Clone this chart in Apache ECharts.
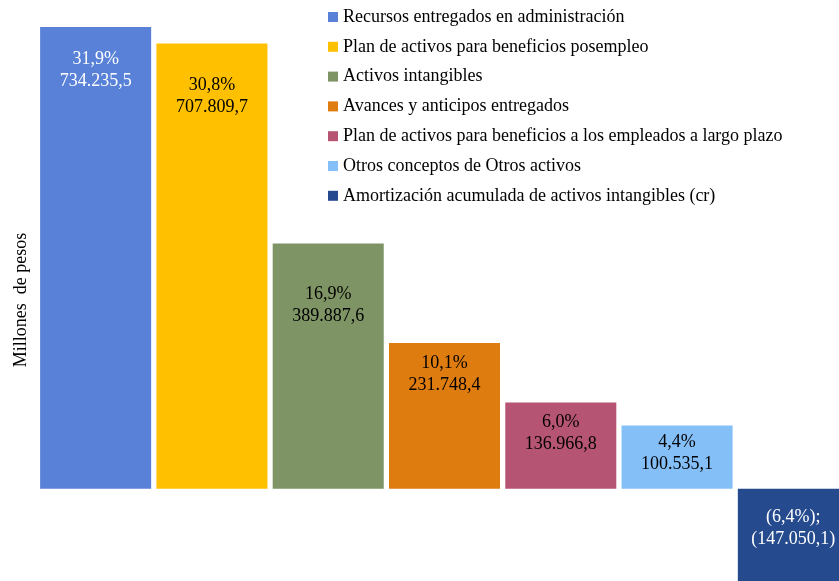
<!DOCTYPE html>
<html><head><meta charset="utf-8">
<script src="https://cdn.jsdelivr.net/npm/echarts@6/dist/echarts.min.js"></script>
<style>html,body{margin:0;padding:0;background:#fff}#c{width:839px;height:581px}</style>
</head><body><div id="c"></div>
<script>
const categories = [
  "Recursos entregados en administración",
  "Plan de activos para beneficios posempleo",
  "Activos intangibles",
  "Avances y anticipos entregados",
  "Plan de activos para beneficios a los empleados a largo plazo",
  "Otros conceptos de Otros activos",
  "Amortización acumulada de activos intangibles (cr)"
];
const values = [734235.5, 707809.7, 389887.6, 231748.4, 136966.8, 100535.1, -147050.1];
const percents = [31.9, 30.8, 16.9, 10.1, 6.0, 4.4, -6.4];

const colors = ["#5881D7", "#FFC000", "#7E9464", "#DF7C0F", "#B65473", "#85BFF8", "#254A8E"];
const labelColors = ["#ffffff", "#000000", "#000000", "#000000", "#000000", "#000000", "#ffffff"];
const labelDist = [21, 31, 39.5, 9.5, 9, 5.5, 17.5];

function fmt(v) {
  const a = Math.abs(v);
  const s = a.toFixed(1).split('.');
  const int = s[0].replace(/\B(?=(\d{3})+(?!\d))/g, '.');
  const r = int + ',' + s[1];
  return v < 0 ? '(' + r + ')' : r;
}
function fmtPct(p) {
  const r = Math.abs(p).toFixed(1).replace('.', ',') + '%';
  return p < 0 ? '(' + r + ');' : r;
}

const series = categories.map((name, i) => ({
  name: name,
  type: 'bar',
  stack: 'all',
  barCategoryGap: '4.5%',
  itemStyle: { color: colors[i] },
  data: values.map((v, j) => j === i ? v : null),
  label: {
    show: true,
    position: 'insideTop',
    distance: labelDist[i],
    color: labelColors[i],
    fontFamily: 'Liberation Serif',
    fontSize: 18,
    lineHeight: 22,
    formatter: () => fmtPct(percents[i]) + '\n' + fmt(values[i])
  }
}));

const chart = echarts.init(document.getElementById('c'));
chart.setOption({
  animation: false,
  color: colors,
  grid: { left: 37.5, width: 814, top: -1.8, height: 584.8, containLabel: false, outerBoundsMode: 'none' },
  legend: {
    orient: 'vertical',
    left: 323,
    top: 3,
    itemWidth: 10,
    itemHeight: 10,
    itemGap: 11.8,
    icon: 'rect',
    textStyle: { fontFamily: 'Liberation Serif', fontSize: 18, lineHeight: 18, color: '#000' },
    data: categories
  },
  xAxis: {
    type: 'category',
    data: categories,
    axisLine: { show: false },
    axisTick: { show: false },
    axisLabel: { show: false }
  },
  yAxis: {
    type: 'value',
    min: -150000,
    max: 780000,
    axisLine: { show: false },
    axisTick: { show: false },
    axisLabel: { show: false },
    splitLine: { show: false }
  },
  graphic: [{
    type: 'text',
    rotation: Math.PI / 2,
    x: 21,
    y: 300,
    style: {
      text: 'Millones  de pesos',
      fontFamily: 'Liberation Serif',
      fontSize: 18,
      fill: '#000',
      align: 'center',
      verticalAlign: 'middle'
    }
  }],
  series: series
});
</script></body></html>
